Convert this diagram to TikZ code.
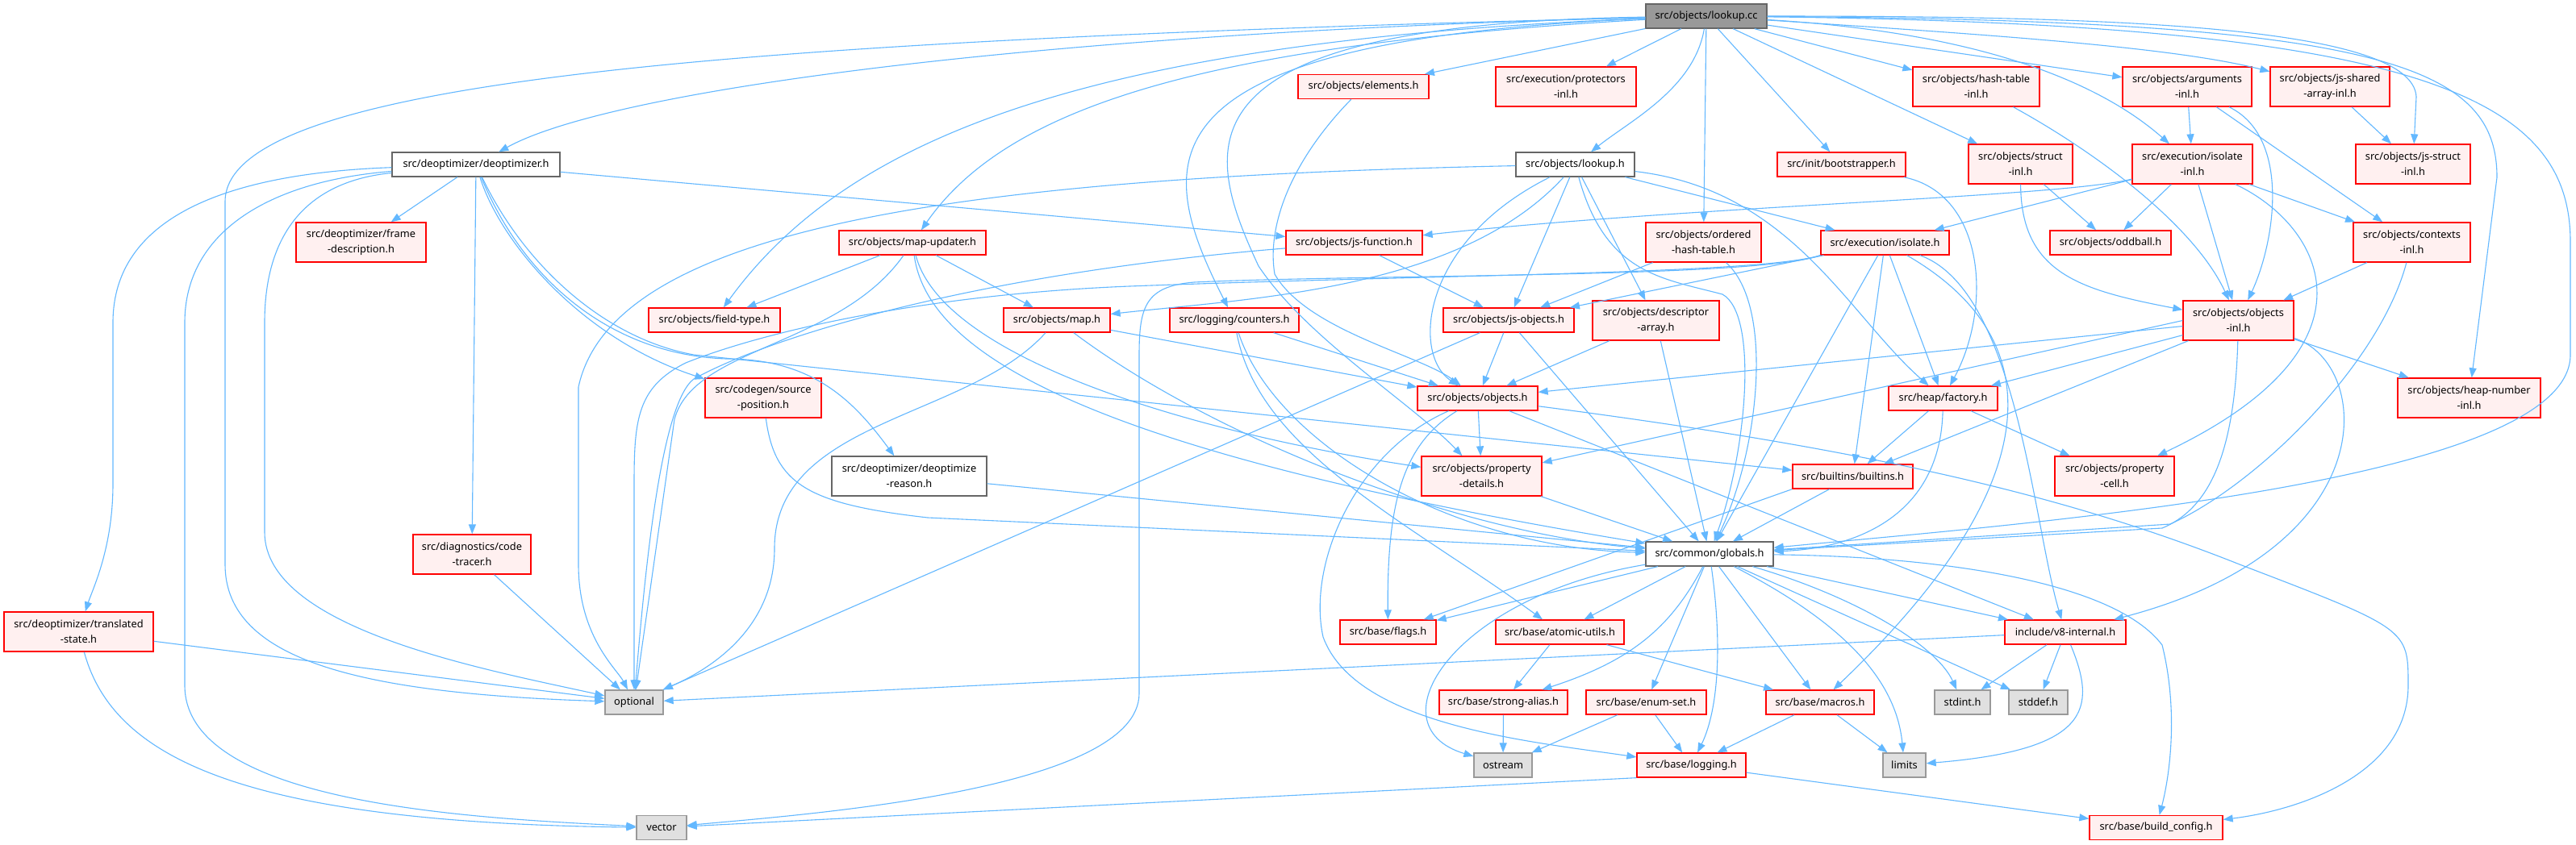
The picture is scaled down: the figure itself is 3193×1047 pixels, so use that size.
\documentclass[tikz,border=0pt]{standalone}
\usepackage{fontspec}
\setmainfont{Noto Sans}
\usetikzlibrary{arrows.meta}
\definecolor{dxedge}{HTML}{63B8FF}
\definecolor{dxred}{HTML}{FF0000}
\definecolor{dxredfill}{HTML}{FFF0F0}
\definecolor{dxgrey}{HTML}{999999}
\definecolor{dxgreyfill}{HTML}{E0E0E0}
\definecolor{dxdark}{HTML}{666666}

\begin{document}
\begin{tikzpicture}[x=1pt,y=-1pt,
  hdr/.style={draw=dxred,fill=dxredfill,line width=1.3pt,minimum height=30pt,inner sep=0pt,font=\fontsize{12.8}{19}\selectfont,align=center},
  hdr2/.style={hdr,minimum height=49pt},
  doc/.style={hdr,draw=dxdark,fill=white},
  sys/.style={hdr,draw=dxgrey,fill=dxgreyfill},
  root/.style={hdr,draw=dxdark,fill=dxgrey},
  arr/.style={-{Triangle[length=12pt,width=9pt]},dxedge,line width=1.1pt}
]
\fill[white] (0,0) rectangle (3193,1047);
\useasboundingbox (0,0) rectangle (3193,1047);

\node[root,minimum width=150pt] (cc) at (2115,20) {src/objects/lookup.cc};
\node[doc,minimum width=208pt] (deopt) at (590,204) {src/deoptimizer/deoptimizer.h};
\node[hdr2,minimum width=161pt] (framedesc) at (447.5,300.5) {src/deoptimizer/frame\\-description.h};
\node[hdr,minimum width=162pt] (elements) at (1690,107.5) {src/objects/elements.h};
\node[hdr2,minimum width=174pt] (protectors) at (1941,107.5) {src/execution/protectors\\-inl.h};
\node[doc,minimum width=147pt] (lookuph) at (1952.5,204) {src/objects/lookup.h};
\node[hdr,minimum width=159pt] (bootstrap) at (2282.5,204) {src/init/bootstrapper.h};
\node[hdr2,minimum width=143pt] (ordhash) at (2111.5,300.5) {src/objects/ordered\\-hash-table.h};
\node[hdr,minimum width=169pt] (jsfunc) at (1678.5,301) {src/objects/js-function.h};
\node[hdr,minimum width=159pt] (isolate) at (2336.5,301) {src/execution/isolate.h};
\node[hdr2,minimum width=157pt] (hashtinl) at (2449.5,107.5) {src/objects/hash-table\\-inl.h};
\node[hdr2,minimum width=160pt] (argsinl) at (2711,107.5) {src/objects/arguments\\-inl.h};
\node[hdr2,minimum width=148pt] (jssab) at (2888,107.5) {src/objects/js-shared\\-array-inl.h};
\node[hdr2,minimum width=129pt] (structinl) at (2504.5,203.5) {src/objects/struct\\-inl.h};
\node[hdr2,minimum width=149pt] (isoinl) at (2717.5,203.5) {src/execution/isolate\\-inl.h};
\node[hdr2,minimum width=142pt] (jsstruct) at (2991,203.5) {src/objects/js-struct\\-inl.h};
\node[hdr,minimum width=150pt] (oddball) at (2616,301) {src/objects/oddball.h};
\node[hdr2,minimum width=145pt] (ctxinl) at (2989.5,300.5) {src/objects/contexts\\-inl.h};
\node[hdr,minimum width=182pt] (mapupd) at (1131,301) {src/objects/map-updater.h};
\node[hdr,minimum width=163pt] (fieldtype) at (885.5,397) {src/objects/field-type.h};
\node[hdr,minimum width=132pt] (map) at (1310,397) {src/objects/map.h};
\node[hdr,minimum width=160pt] (counters) at (1530,397) {src/logging/counters.h};
\node[hdr2,minimum width=144pt] (srcpos) at (946,493.5) {src/codegen/source\\-position.h};
\node[doc,minimum height=49pt,minimum width=192pt] (deoptreason) at (1127,590.5) {src/deoptimizer/deoptimize\\-reason.h};
\node[hdr,minimum width=162pt] (jsobjects) at (1870,397) {src/objects/js-objects.h};
\node[hdr2,minimum width=157pt] (descarr) at (2052.5,397.5) {src/objects/descriptor\\-array.h};
\node[hdr,minimum width=149pt] (objects) at (1831.5,494) {src/objects/objects.h};
\node[hdr2,minimum width=149pt] (propdet) at (1836.5,590.5) {src/objects/property\\-details.h};
\node[hdr,minimum width=149pt] (builtins) at (2296.5,591) {src/builtins/builtins.h};
\node[doc,minimum width=158pt] (globals) at (2119,687) {src/common/globals.h};
\node[hdr,minimum width=135pt] (factory) at (2408.5,494) {src/heap/factory.h};
\node[hdr2,minimum width=137pt] (objinl) at (2774.5,397.5) {src/objects/objects\\-inl.h};
\node[hdr2,minimum width=177pt] (heapnum) at (3060.5,493.5) {src/objects/heap-number\\-inl.h};
\node[hdr2,minimum width=148pt] (propcell) at (2621,590.5) {src/objects/property\\-cell.h};
\node[hdr2,minimum width=146pt] (codetracer) at (585,687.5) {src/diagnostics/code\\-tracer.h};
\node[hdr2,minimum width=185pt] (transstate) at (97.5,783.5) {src/deoptimizer/translated\\-state.h};
\node[sys,minimum width=72pt] (optional) at (786,871) {optional};
\node[sys,minimum width=62pt] (vector) at (820,1026.5) {vector};
\node[hdr,minimum width=119pt] (flags) at (1720.5,784) {src/base/flags.h};
\node[hdr,minimum width=159pt] (atomic) at (1933.5,784) {src/base/atomic-utils.h};
\node[hdr,minimum width=159pt] (strongalias) at (1863.5,871) {src/base/strong-alias.h};
\node[hdr,minimum width=149pt] (enumset) at (2040.5,871) {src/base/enum-set.h};
\node[hdr,minimum width=134pt] (macros) at (2256,871) {src/base/macros.h};
\node[sys,minimum width=72pt] (ostream) at (1863,949) {ostream};
\node[hdr,minimum width=135pt] (logging) at (2096.5,949) {src/base/logging.h};
\node[sys,minimum width=53pt] (limits) at (2360.5,949) {limits};
\node[hdr,minimum width=150pt] (v8int) at (2560,784) {include/v8-internal.h};
\node[sys,minimum width=69pt] (stdint) at (2432.5,871) {stdint.h};
\node[sys,minimum width=73pt] (stddef) at (2526.5,871) {stddef.h};
\node[hdr,minimum width=165pt] (buildcfg) at (2672.5,1026.5) {src/base/build\_config.h};

\draw[arr] (cc) .. controls (1300,40) and (760,110) .. (deopt);
\draw[arr] (cc) .. controls (900,50) and (279,100) .. (279,250) -- (279,700) .. controls (279,820) and (450,860) .. (optional);
\draw[arr] (cc) .. controls (1350,50) and (1050,170) .. (fieldtype);
\draw[arr] (cc) .. controls (1500,55) and (1250,130) .. (mapupd);
\draw[arr] (cc) .. controls (1400,50) and (1430,200) .. (counters);
\draw[arr] (cc) .. controls (1450,30) and (1490,180) .. (1560,330) .. controls (1620,420) and (1750,500) .. (propdet);
\draw[arr] (cc) -- (elements);
\draw[arr] (cc) -- (protectors);
\draw[arr] (cc) .. controls (2100,110) and (2020,150) .. (lookuph);
\draw[arr] (cc) -- (ordhash);
\draw[arr] (cc) -- (bootstrap);
\draw[arr] (cc) -- (structinl);
\draw[arr] (cc) -- (hashtinl);
\draw[arr] (cc) .. controls (2450,40) and (2600,100) .. (isoinl);
\draw[arr] (cc) -- (argsinl);
\draw[arr] (cc) .. controls (2500,45) and (2700,60) .. (jssab);
\draw[arr] (cc) .. controls (2600,20) and (2990,30) .. (2995,120) -- (jsstruct);
\draw[arr] (cc) .. controls (2950,25) and (3095,80) .. (3095,220) -- (heapnum);
\draw[arr] (cc) .. controls (3000,30) and (3186,120) .. (3186,300) -- (3186,440) .. controls (3186,600) and (2500,650) .. (globals);

\draw[arr] (deopt) -- (framedesc);
\draw[arr] (deopt) -- (codetracer);
\draw[arr] (deopt) .. controls (280,215) and (140,270) .. (140,400) -- (140,600) .. controls (140,680) and (115,730) .. (transstate);
\draw[arr] (deopt) .. controls (330,225) and (229,290) .. (229,400) -- (229,850) .. controls (229,1000) and (600,1015) .. (vector);
\draw[arr] (deopt) .. controls (380,225) and (328,290) .. (328,400) -- (328,660) .. controls (328,780) and (600,830) .. (optional);
\draw[arr] (deopt) .. controls (620,300) and (720,420) .. (srcpos);
\draw[arr] (deopt) .. controls (650,350) and (760,440) .. (900,445) .. controls (1010,445) and (1060,500) .. (deoptreason);
\draw[arr] (deopt) .. controls (650,330) and (750,420) .. (860,440) -- (builtins);
\draw[arr] (deopt) -- (jsfunc);

\draw[arr] (lookuph) .. controls (1200,220) and (760,280) .. (717,480) -- (717,700) .. controls (717,790) and (765,830) .. (optional);
\draw[arr] (lookuph) .. controls (1810,360) and (1550,370) .. (map);
\draw[arr] (lookuph) .. controls (1760,300) and (1750,440) .. (objects);
\draw[arr] (lookuph) -- (jsobjects);
\draw[arr] (lookuph) -- (descarr);
\draw[arr] (lookuph) .. controls (1990,340) and (2060,345) .. (2135,365) .. controls (2180,390) and (2165,560) .. (globals);
\draw[arr] (lookuph) .. controls (2220,235) and (2290,390) .. (factory);
\draw[arr] (lookuph) -- (isolate);

\draw[arr] (mapupd) -- (fieldtype);
\draw[arr] (mapupd) .. controls (1040,430) and (860,430) .. (836,520) -- (optional);
\draw[arr] (mapupd) -- (map);
\draw[arr] (mapupd) .. controls (1170,450) and (1500,540) .. (propdet);
\draw[arr] (mapupd) .. controls (1150,440) and (1350,560) .. (globals);

\draw[arr] (map) .. controls (1200,520) and (960,520) .. (960,680) .. controls (960,780) and (880,830) .. (optional);
\draw[arr] (map) -- (objects);
\draw[arr] (map) .. controls (1500,540) and (1800,660) .. (globals);

\draw[arr] (counters) -- (objects);
\draw[arr] (counters) .. controls (1560,560) and (1750,650) .. (atomic);
\draw[arr] (counters) .. controls (1580,550) and (1800,680) .. (globals);

\draw[arr] (jsfunc) -- (jsobjects);
\draw[arr] (jsfunc) .. controls (1200,340) and (950,420) .. (860,470) .. controls (820,500) and (800,700) .. (optional);

\draw[arr] (elements) .. controls (1600,200) and (1570,280) .. (1580,340) .. controls (1620,410) and (1760,440) .. (objects);

\draw[arr] (ordhash) -- (jsobjects);
\draw[arr] (ordhash) .. controls (2200,380) and (2180,560) .. (globals);

\draw[arr] (bootstrap) .. controls (2460,240) and (2470,380) .. (factory);

\draw[arr] (hashtinl) .. controls (2600,190) and (2720,280) .. (objinl);

\draw[arr] (structinl) -- (oddball);
\draw[arr] (structinl) .. controls (2505,340) and (2580,360) .. (objinl);

\draw[arr] (argsinl) -- (isoinl);
\draw[arr] (argsinl) .. controls (2840,170) and (2820,300) .. (objinl);
\draw[arr] (argsinl) -- (ctxinl);

\draw[arr] (jssab) -- (jsstruct);

\draw[arr] (isoinl) .. controls (2550,245) and (2100,255) .. (jsfunc);
\draw[arr] (isoinl) -- (isolate);
\draw[arr] (isoinl) -- (oddball);
\draw[arr] (isoinl) -- (objinl);
\draw[arr] (isoinl) .. controls (2880,280) and (2960,430) .. (propcell);
\draw[arr] (isoinl) -- (ctxinl);

\draw[arr] (ctxinl) -- (objinl);
\draw[arr] (ctxinl) .. controls (2950,450) and (2800,600) .. (2690,650) -- (globals);

\draw[arr] (isolate) -- (jsobjects);
\draw[arr] (isolate.south west) .. controls (2180,340) and (1800,340) .. (1400,355) .. controls (1150,365) and (950,410) .. (850,450) .. controls (790,480) and (786,520) .. (786,600) -- (optional);
\draw[arr] (isolate.south west) .. controls (2180,345) and (1700,340) .. (1480,350) .. controls (1420,355) and (1412,380) .. (1412,440) -- (1412,860) .. controls (1412,980) and (1000,1010) .. (vector);
\draw[arr] (isolate) -- (builtins);
\draw[arr] (isolate) -- (factory);
\draw[arr] (isolate) .. controls (2500,360) and (2520,650) .. (v8int);
\draw[arr] (isolate) .. controls (2560,430) and (2520,620) .. (macros);
\draw[arr] (isolate) -- (globals);

\draw[arr] (factory) -- (propcell);
\draw[arr] (factory) .. controls (2405,640) and (2300,680) .. (globals);
\draw[arr] (factory) -- (builtins);

\draw[arr] (builtins) -- (globals);
\draw[arr] (builtins.south west) -- (flags);

\draw[arr] (propdet) -- (globals);

\draw[arr] (objects) -- (propdet);
\draw[arr] (objects) .. controls (1740,550) and (1719,620) .. (flags);
\draw[arr] (objects) .. controls (1680,560) and (1620,700) .. (1640,790) .. controls (1680,900) and (1900,920) .. (logging);
\draw[arr] (objects) -- (v8int);
\draw[arr] (objects) .. controls (2300,555) and (2550,610) .. (2776,700) .. controls (2985,780) and (2985,780) .. (2985,850) .. controls (2985,960) and (2850,1005) .. (buildcfg);

\draw[arr] (objinl) -- (objects);
\draw[arr] (objinl.west) -- (propdet);
\draw[arr] (objinl) -- (factory);
\draw[arr] (objinl) -- (builtins);
\draw[arr] (objinl) -- (heapnum);
\draw[arr] (objinl) .. controls (2940,450) and (2960,680) .. (v8int);
\draw[arr] (objinl) .. controls (2770,560) and (2740,630) .. (2680,655) -- (globals);

\draw[arr] (jsobjects) -- (objects);
\draw[arr] (jsobjects) -- (optional);
\draw[arr] (jsobjects) -- (globals);

\draw[arr] (descarr) -- (objects);
\draw[arr] (descarr) -- (globals);

\draw[arr] (srcpos) .. controls (960,600) and (1000,625) .. (1150,642) -- (globals);
\draw[arr] (deoptreason) -- (globals);
\draw[arr] (codetracer) -- (optional);
\draw[arr] (transstate) -- (optional);
\draw[arr] (transstate) .. controls (140,940) and (300,1020) .. (vector);

\draw[arr] (globals) -- (flags);
\draw[arr] (globals) .. controls (1800,740) and (1700,900) .. (ostream);
\draw[arr] (globals) -- (atomic);
\draw[arr] (globals) .. controls (2070,780) and (2020,820) .. (strongalias);
\draw[arr] (globals) -- (enumset);
\draw[arr] (globals) .. controls (2135,800) and (2130,880) .. (logging);
\draw[arr] (globals) -- (macros);
\draw[arr] (globals) .. controls (2280,770) and (2350,840) .. (limits);
\draw[arr] (globals) .. controls (2300,740) and (2400,800) .. (stdint);
\draw[arr] (globals) -- (stddef);
\draw[arr] (globals) -- (v8int);
\draw[arr] (globals) .. controls (2400,690) and (2620,720) .. (2680,800) .. controls (2700,880) and (2690,960) .. (buildcfg);

\draw[arr] (atomic) -- (strongalias);
\draw[arr] (atomic) -- (macros);
\draw[arr] (strongalias) -- (ostream);
\draw[arr] (enumset) -- (ostream);
\draw[arr] (enumset) -- (logging);
\draw[arr] (macros) -- (logging);
\draw[arr] (macros) -- (limits);
\draw[arr] (logging) -- (buildcfg);
\draw[arr] (logging.south west) -- (vector);

\draw[arr] (v8int) -- (optional);
\draw[arr] (v8int) -- (stdint);
\draw[arr] (v8int) -- (stddef);
\draw[arr] (v8int) .. controls (2600,880) and (2590,930) .. (limits);
\end{tikzpicture}
\end{document}
